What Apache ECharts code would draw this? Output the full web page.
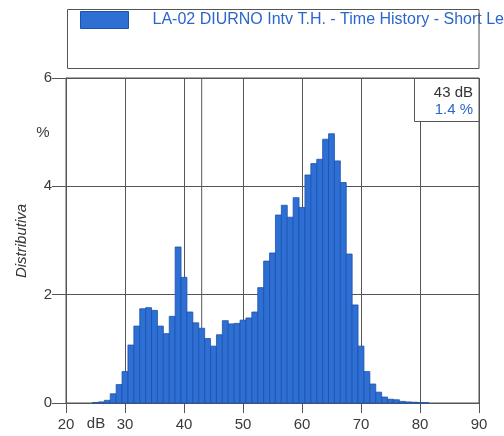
<!DOCTYPE html>
<html>
<head>
    <meta charset="utf-8">
    <title>Distributiva</title>
    <script src="https://cdn.jsdelivr.net/npm/echarts@6.0.0/dist/echarts.min.js"></script>
    <style>
        html, body { margin: 0; padding: 0; background: #fff; }
        #main { width: 504px; height: 436px; }
    </style>
</head>
<body>
<div id="main"></div>
<script type="text/javascript">
// classi di livello (dB, passo 1 dB) e distribuzione in %
var dbLevels = [25, 26, 27, 28, 29, 30, 31, 32, 33, 34, 35, 36, 37, 38, 39, 40,
    41, 42, 43, 44, 45, 46, 47, 48, 49, 50, 51, 52, 53, 54, 55, 56, 57, 58, 59, 60,
    61, 62, 63, 64, 65, 66, 67, 68, 69, 70, 71, 72, 73, 74, 75, 76, 77, 78, 79, 80, 81];
var pctValues = [0.01, 0.02, 0.05, 0.17, 0.34, 0.58, 1.07, 1.42, 1.74, 1.76, 1.71, 1.42, 1.28, 1.60, 2.88, 2.32,
    1.68, 1.48, 1.38, 1.19, 1.05, 1.26, 1.52, 1.46, 1.47, 1.53, 1.57, 1.68, 2.13, 2.62, 2.77, 3.47, 3.65, 3.43, 3.79, 3.61,
    4.21, 4.42, 4.50, 4.87, 4.97, 4.47, 4.07, 2.75, 1.81, 1.05, 0.58, 0.35, 0.20, 0.11, 0.07, 0.06, 0.03, 0.02, 0.015, 0.01, 0.005];
var xTicks = [20, 30, 40, 50, 60, 70, 80, 90];
var yTicks = [0, 2, 4, 6];
var seriesName = 'LA-02 DIURNO Intv T.H. - Time History - Short Leq';
var cursorDb = 43;
var cursorPct = 1.4;

var barColor = '#2e6fd4';
var barEdge = '#1c52ad';
var gridColor = '#555';
var font = 'Liberation Sans';

var histData = [];
for (var i = 0; i < dbLevels.length; i++) {
    histData.push([dbLevels[i], pctValues[i]]);
}

var myChart = echarts.init(document.getElementById('main'), null, { renderer: 'canvas' });

var option = {
    backgroundColor: '#fff',
    animation: false,
    grid: {
        left: 66, right: 25, top: 78, bottom: 33,
        show: true,
        borderColor: gridColor,
        borderWidth: 1,
        outerBoundsMode: 'none'
    },
    legend: {
        left: 80, top: 11,
        padding: 0,
        itemWidth: 48, itemHeight: 17,
        icon: 'rect',
        data: [{ name: seriesName, itemStyle: { color: barColor, borderColor: barEdge, borderWidth: 1 } }],
        textStyle: { color: '#2b66cc', fontSize: 16, fontFamily: font, padding: [0, 0, 0, 19] }
    },
    xAxis: {
        type: 'value',
        min: xTicks[0], max: xTicks[xTicks.length - 1], interval: 10,
        axisLine: { show: true, onZero: false, lineStyle: { color: gridColor } },
        axisTick: { show: true, length: 10, lineStyle: { color: gridColor } },
        axisLabel: { color: '#3a3a3a', fontSize: 15, fontFamily: font, margin: 14 },
        splitLine: { show: true, lineStyle: { color: gridColor, width: 1 } }
    },
    yAxis: {
        type: 'value',
        min: yTicks[0], max: yTicks[yTicks.length - 1], interval: 2,
        axisLine: { show: true, lineStyle: { color: gridColor } },
        axisTick: { show: true, length: 14, lineStyle: { color: gridColor } },
        axisLabel: { color: '#3a3a3a', fontSize: 15, fontFamily: font, margin: 14 },
        splitLine: { show: true, lineStyle: { color: gridColor, width: 1 } }
    },
    series: [{
        // cursore a 43 dB
        type: 'line',
        silent: true,
        z: 1,
        symbol: 'none',
        data: [[cursorDb, yTicks[0]], [cursorDb, yTicks[yTicks.length - 1]]],
        lineStyle: { color: gridColor, width: 1 }
    }, {
        name: seriesName,
        type: 'custom',
        z: 2,
        itemStyle: { color: barColor, borderColor: barEdge, borderWidth: 1 },
        data: histData,
        renderItem: function (params, api) {
            var x = api.value(0);
            var v = api.value(1);
            var p0 = api.coord([x - 0.5, v]);
            var p1 = api.coord([x + 0.5, 0]);
            return {
                type: 'rect',
                shape: { x: p0[0], y: p0[1], width: p1[0] - p0[0], height: p1[1] - p0[1] },
                style: { fill: barColor, stroke: barEdge, lineWidth: 0.8 }
            };
        }
    }],
    graphic: [
        { type: 'rect', z: 100, shape: { x: 67.5, y: 9.5, width: 411.5, height: 59 },
          style: { fill: null, stroke: gridColor, lineWidth: 1 } },
        { type: 'rect', z: 100, shape: { x: 414.5, y: 78.5, width: 64.5, height: 43 },
          style: { fill: '#fff', stroke: gridColor, lineWidth: 1 } },
        { type: 'text', z: 101, x: 473, y: 93,
          style: { text: cursorDb + ' dB', fill: '#333', font: '15px ' + font, align: 'right', verticalAlign: 'middle' } },
        { type: 'text', z: 101, x: 473, y: 110,
          style: { text: cursorPct.toFixed(1) + ' %', fill: '#2b66cc', font: '15px ' + font, align: 'right', verticalAlign: 'middle' } },
        { type: 'text', z: 101, x: 43, y: 133,
          style: { text: '%', fill: '#3a3a3a', font: '15px ' + font, align: 'center', verticalAlign: 'middle' } },
        { type: 'text', z: 101, x: 96, y: 424,
          style: { text: 'dB', fill: '#3a3a3a', font: '15px ' + font, align: 'center', verticalAlign: 'middle' } },
        { type: 'text', z: 101, x: 22, y: 241, rotation: Math.PI / 2,
          style: { text: 'Distributiva', fill: '#333', font: 'italic 15px ' + font, align: 'center', verticalAlign: 'middle' } }
    ]
};

myChart.setOption(option);
</script>
</body>
</html>
